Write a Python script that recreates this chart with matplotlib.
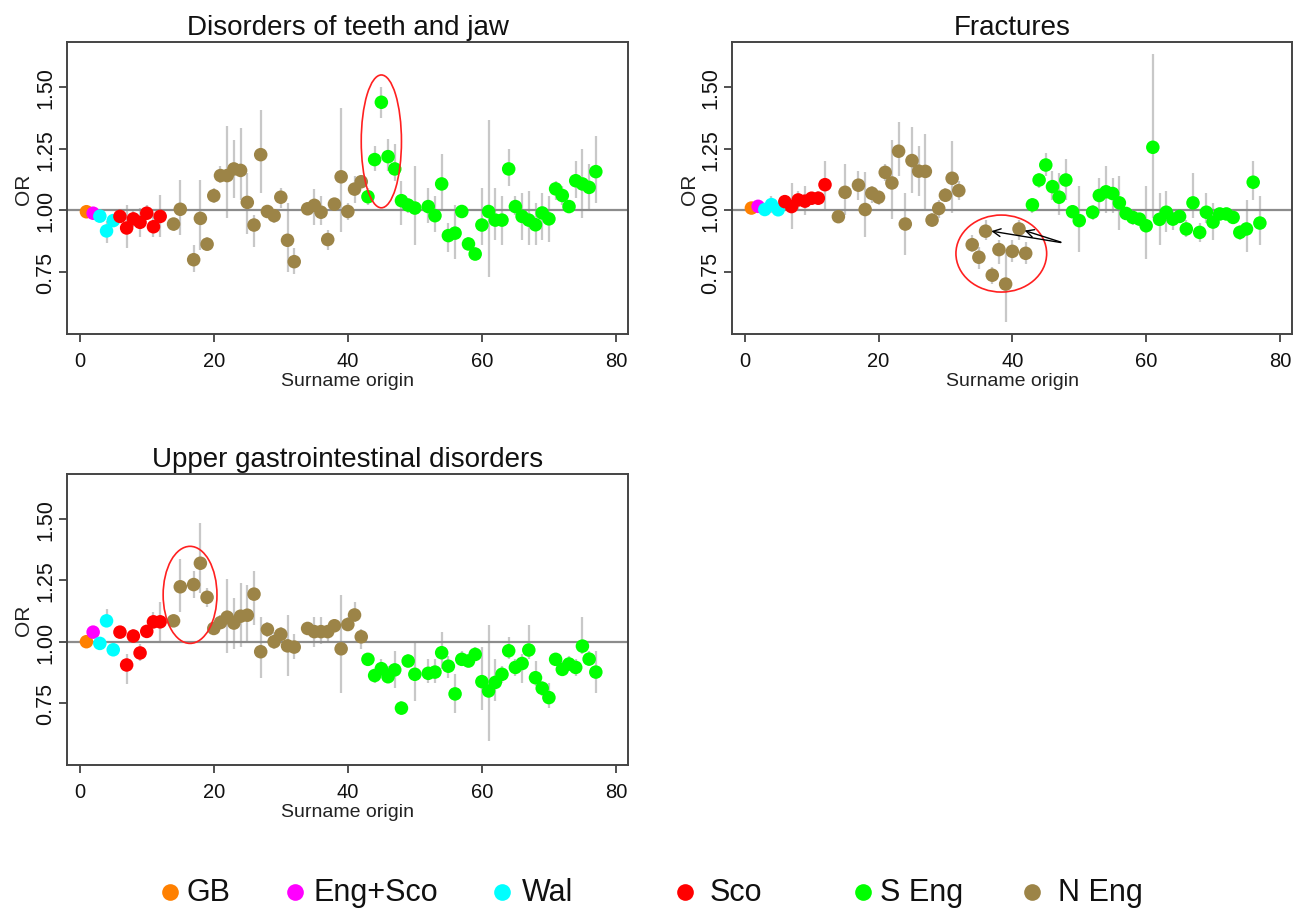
import matplotlib
matplotlib.use("Agg")
import matplotlib.pyplot as plt
from matplotlib.patches import Ellipse
from matplotlib.lines import Line2D
import numpy as np

plt.rcParams['font.family'] = ['Liberation Sans', 'DejaVu Sans']

# ---------------- data ----------------
surname_origin = [1, 2, 3, 4, 5, 6, 7, 8, 9, 10, 11, 12, 14, 15, 17, 18, 19, 20, 21, 22,
                  23, 24, 25, 26, 27, 28, 29, 30, 31, 32, 34, 35, 36, 37, 38, 39, 40, 41, 42,
                  43, 44, 45, 46, 47, 48, 49, 50, 52, 53, 54, 55, 56, 57, 58, 59, 60, 61,
                  62, 63, 64, 65, 66, 67, 68, 69, 70, 71, 72, 73, 74, 75, 76, 77]
group = (["GB", "Eng+Sco"] + ["Wal"] * 3 + ["Sco"] * 7 + ["N Eng"] * 27 + ["S Eng"] * 34)

group_names = ["GB", "Eng+Sco", "Wal", "Sco", "S Eng", "N Eng"]
group_colors = ["#FF8000", "#FF00FF", "#00FFFF", "#FF0000", "#00FF00", "#9C8447"]

teeth_or = [0.994, 0.988, 0.976, 0.916, 0.958, 0.975, 0.928, 0.965, 0.951, 0.988, 0.933, 0.975,
            0.944, 1.004, 0.799, 0.967, 0.862, 1.059, 1.141, 1.141, 1.168, 1.162, 1.032, 0.940,
            1.226, 0.995, 0.978, 1.053, 0.878, 0.791, 1.006, 1.020, 0.992, 0.881, 1.025, 1.136,
            0.995, 1.086, 1.116, 1.055, 1.206, 1.439, 1.218, 1.168, 1.039, 1.021, 1.009, 1.015,
            0.978, 1.107, 0.897, 0.907, 0.995, 0.863, 0.822, 0.940, 0.995, 0.960, 0.960, 1.168,
            1.015, 0.975, 0.960, 0.941, 0.989, 0.965, 1.087, 1.060, 1.015, 1.120, 1.107, 1.093, 1.157]
teeth_lo = [0.985, 0.980, 0.960, 0.867, 0.935, 0.950, 0.845, 0.930, 0.890, 0.960, 0.890, 0.890,
            0.915, 0.900, 0.750, 0.838, 0.840, 1.030, 1.110, 0.970, 1.049, 1.040, 0.904, 0.850,
            1.069, 0.970, 0.950, 1.010, 0.750, 0.740, 0.980, 0.940, 0.940, 0.840, 1.000, 0.910,
            0.960, 1.030, 1.090, 1.020, 1.160, 1.375, 1.160, 1.120, 0.940, 0.990, 0.860, 0.950,
            0.910, 1.000, 0.830, 0.800, 0.970, 0.840, 0.800, 0.860, 0.730, 0.880, 0.860, 1.100,
            0.980, 0.880, 0.860, 0.860, 0.880, 0.870, 1.040, 1.020, 0.990, 1.050, 0.970, 1.000, 1.030]
teeth_hi = [1.003, 0.996, 0.990, 0.955, 0.980, 1.000, 1.023, 1.000, 1.010, 1.020, 0.990, 1.063,
            0.970, 1.124, 0.857, 1.124, 0.890, 1.090, 1.180, 1.341, 1.286, 1.333, 1.150, 0.980,
            1.408, 1.010, 1.000, 1.090, 1.030, 0.845, 1.030, 1.087, 1.060, 0.920, 1.050, 1.416,
            1.030, 1.140, 1.140, 1.090, 1.260, 1.502, 1.290, 1.270, 1.120, 1.050, 1.180, 1.090,
            1.060, 1.230, 0.950, 1.020, 1.020, 0.890, 0.850, 1.090, 1.368, 1.090, 1.060, 1.250,
            1.060, 1.070, 1.080, 1.030, 1.070, 1.060, 1.120, 1.100, 1.040, 1.200, 1.250, 1.190, 1.300]

fract_or = [1.009, 1.016, 1.003, 1.023, 1.002, 1.035, 1.015, 1.042, 1.037, 1.049, 1.049, 1.104,
            0.974, 1.073, 1.102, 1.003, 1.069, 1.053, 1.154, 1.111, 1.240, 0.944, 1.202, 1.159,
            1.158, 0.960, 1.007, 1.061, 1.130, 1.080, 0.860, 0.809, 0.915, 0.736, 0.840, 0.700,
            0.833, 0.924, 0.825, 1.022, 1.123, 1.184, 1.096, 1.053, 1.123, 0.994, 0.958, 0.992,
            1.060, 1.075, 1.068, 1.030, 0.987, 0.971, 0.964, 0.937, 1.256, 0.963, 0.992, 0.964,
            0.975, 0.924, 1.030, 0.910, 0.992, 0.952, 0.985, 0.985, 0.971, 0.910, 0.924, 1.114, 0.948]
fract_lo = [0.995, 1.000, 0.990, 0.990, 0.990, 1.010, 0.924, 1.000, 0.980, 1.020, 1.020, 1.000,
            0.950, 0.980, 1.040, 0.890, 1.030, 1.020, 1.120, 0.965, 1.140, 0.820, 1.070, 1.060,
            1.000, 0.930, 0.970, 1.040, 0.990, 1.040, 0.830, 0.760, 0.880, 0.700, 0.780, 0.545,
            0.790, 0.880, 0.780, 0.990, 1.090, 1.140, 1.040, 0.980, 1.040, 0.970, 0.830, 0.960,
            0.990, 0.990, 0.990, 0.920, 0.960, 0.940, 0.940, 0.800, 0.970, 0.860, 0.910, 0.920,
            0.950, 0.890, 0.970, 0.870, 0.950, 0.880, 0.960, 0.960, 0.950, 0.880, 0.830, 1.040, 0.860]
fract_hi = [1.020, 1.030, 1.015, 1.060, 1.015, 1.060, 1.111, 1.080, 1.100, 1.070, 1.080, 1.199,
            1.000, 1.190, 1.160, 1.157, 1.100, 1.080, 1.190, 1.287, 1.360, 1.070, 1.340, 1.260,
            1.310, 0.990, 1.040, 1.090, 1.280, 1.120, 0.900, 0.850, 0.960, 0.770, 0.880, 0.840,
            0.880, 0.960, 0.870, 1.050, 1.150, 1.232, 1.160, 1.150, 1.210, 1.020, 1.100, 1.020,
            1.130, 1.180, 1.130, 1.140, 1.010, 1.000, 0.990, 1.100, 1.635, 1.070, 1.080, 1.000,
            1.000, 0.960, 1.150, 0.950, 1.070, 1.030, 1.010, 1.010, 0.990, 0.940, 1.040, 1.200, 1.060]

ugi_or = [1.000, 1.039, 0.993, 1.085, 0.967, 1.039, 0.905, 1.023, 0.954, 1.042, 1.081, 1.081,
          1.085, 1.224, 1.233, 1.320, 1.181, 1.054, 1.078, 1.100, 1.076, 1.104, 1.108, 1.194,
          0.959, 1.050, 1.000, 1.030, 0.983, 0.978, 1.054, 1.041, 1.041, 1.041, 1.065, 0.971,
          1.070, 1.109, 1.020, 0.928, 0.862, 0.890, 0.857, 0.885, 0.729, 0.921, 0.867, 0.871,
          0.876, 0.955, 0.900, 0.787, 0.928, 0.921, 0.948, 0.837, 0.799, 0.834, 0.867, 0.963,
          0.895, 0.911, 0.966, 0.853, 0.810, 0.772, 0.928, 0.887, 0.909, 0.895, 0.982, 0.929, 0.876]
ugi_lo = [0.990, 1.020, 0.970, 1.060, 0.950, 1.020, 0.826, 1.000, 0.920, 1.020, 1.050, 1.000,
          1.060, 1.120, 1.180, 1.200, 1.140, 1.030, 1.050, 0.953, 0.970, 0.980, 1.000, 1.070,
          0.850, 1.020, 0.970, 1.000, 0.860, 0.930, 1.030, 0.980, 0.990, 1.000, 1.040, 0.790,
          1.050, 1.080, 0.970, 0.910, 0.830, 0.860, 0.830, 0.810, 0.700, 0.900, 0.760, 0.830,
          0.830, 0.890, 0.850, 0.710, 0.900, 0.900, 0.930, 0.720, 0.594, 0.760, 0.830, 0.930,
          0.860, 0.830, 0.930, 0.820, 0.780, 0.730, 0.900, 0.860, 0.880, 0.860, 0.950, 0.900, 0.790]
ugi_hi = [1.010, 1.060, 1.010, 1.135, 0.990, 1.060, 0.950, 1.050, 0.990, 1.070, 1.120, 1.160,
          1.110, 1.339, 1.290, 1.485, 1.220, 1.080, 1.110, 1.257, 1.180, 1.240, 1.230, 1.290,
          1.100, 1.080, 1.040, 1.060, 1.110, 1.030, 1.080, 1.100, 1.100, 1.070, 1.090, 1.190,
          1.100, 1.160, 1.050, 0.950, 0.890, 0.930, 0.900, 0.960, 0.760, 0.950, 1.000, 0.930,
          0.930, 1.040, 0.940, 0.870, 0.960, 0.950, 0.980, 0.980, 1.070, 0.930, 0.900, 1.020,
          0.930, 0.950, 1.070, 0.920, 0.840, 0.830, 0.950, 0.920, 0.940, 0.930, 1.100, 0.960, 0.960]

titles = ["Disorders of teeth and jaw", "Fractures", "Upper gastrointestinal disorders"]
x_ticks = [0, 20, 40, 60, 80]
y_ticks = [0.75, 1.00, 1.25, 1.50]
y_ticklabels = ["0.75", "1.00", "1.25", "1.50"]

# ---------------- figure ----------------
W, H = 1304, 912
fig = plt.figure(figsize=(W / 100, H / 100), dpi=100)

def px_rect(l, t, r, b):
    return [l / W, 1 - b / H, (r - l) / W, (b - t) / H]

axes_rects = [px_rect(67, 43, 628, 335), px_rect(732, 43, 1292, 335), px_rect(67, 475, 628, 766)]
color_map = dict(zip(group_names, group_colors))
pt_colors = [color_map[g] for g in group]

panels = [(teeth_or, teeth_lo, teeth_hi), (fract_or, fract_lo, fract_hi), (ugi_or, ugi_lo, ugi_hi)]
axes = []
for rect, title, (orv, lo, hi) in zip(axes_rects, titles, panels):
    ax = fig.add_axes(rect)
    axes.append(ax)
    ax.set_xlim(-1.9, 81.8)
    ax.set_ylim(0.497, 1.684)
    ax.vlines(surname_origin, lo, hi, colors="#C8C8C8", linewidth=1.6, zorder=1)
    ax.axhline(1.0, color="#8C8C8C", linewidth=1.6, zorder=2)
    ax.scatter(surname_origin, orv, s=95, c=pt_colors, edgecolors="none", zorder=3)
    ax.set_xticks(x_ticks)
    ax.set_yticks(y_ticks)
    ax.set_yticklabels(y_ticklabels, rotation=90, va="center")
    ax.tick_params(axis="both", direction="out", length=6, width=1.2, color="#333333",
                   labelsize=14.5, labelcolor="#111111")
    ax.tick_params(axis="x", pad=6)
    ax.tick_params(axis="y", pad=2, labelsize=15.5)
    ax.set_xlabel("Surname origin", fontsize=14, labelpad=2, color="#222222")
    ax.set_ylabel("OR", fontsize=15, labelpad=1, color="#222222")
    ax.set_title(title, fontsize=20, pad=6, color="#111111")
    for sp in ax.spines.values():
        sp.set_color("#444444")
        sp.set_linewidth(1.4)

# annotations: red ellipses and arrows
axes[0].add_patch(Ellipse((45, 1.28), 6.0, 0.54, fill=False, edgecolor="#FF2020", linewidth=1.2, zorder=4))
axes[1].add_patch(Ellipse((38.35, 0.824), 13.56, 0.313, fill=False, edgecolor="#FF2020", linewidth=1.2, zorder=4))
axes[2].add_patch(Ellipse((16.46, 1.191), 8.03, 0.396, fill=False, edgecolor="#FF2020", linewidth=1.2, zorder=4))
for tx, ty in [(36.45, 0.917), (41.43, 0.921)]:
    axes[1].annotate("", xy=(tx, ty), xytext=(47.65, 0.867),
                     arrowprops=dict(arrowstyle="->", color="black", lw=1.0, mutation_scale=14), zorder=5)

# legend at bottom
leg_marker_x = [170, 295, 502, 685, 863, 1032]
leg_text_x = [187, 313, 522, 710, 880, 1058]
leg_y = 893
for mx, tx, name, col in zip(leg_marker_x, leg_text_x, group_names, group_colors):
    fig.add_artist(Line2D([mx / W], [1 - leg_y / H], marker="o", markersize=12, color=col,
                          markeredgewidth=0, linestyle="none", transform=fig.transFigure))
    fig.text(tx / W, 1 - leg_y / H, name, fontsize=22, va="center", ha="left", color="#111111")

fig.savefig("out.png", dpi=100)
